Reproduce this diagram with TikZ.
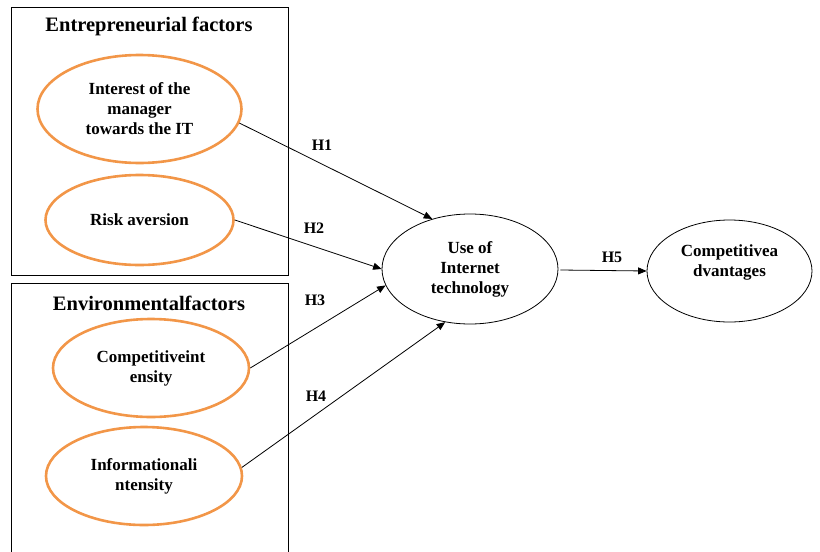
\documentclass[tikz,border=0pt]{standalone}
\usepackage{fontspec}
\setmainfont{Liberation Serif}
\usetikzlibrary{shapes.geometric,arrows.meta}
\definecolor{facorange}{RGB}{242,150,72}

\begin{document}
\begin{tikzpicture}[x=1pt, y=-1pt, every node/.style={font=\bfseries\fontsize{17}{20}\selectfont, align=center},
				fac/.style={ellipse, draw=facorange, line width=2.6pt, inner sep=0pt},
				ov/.style={ellipse, draw, line width=0.8pt, inner sep=0pt},
				ttl/.style={font=\bfseries\fontsize{20.5}{24}\selectfont},
				hl/.style={font=\bfseries\fontsize{16}{19}\selectfont},
				arr/.style={-{Triangle[length=8.5pt,width=7pt]}, line width=0.8pt}]
				\useasboundingbox (0,0) rectangle (820,552);

				\draw[line width=0.9pt] (11,7) rectangle (288,275);
				\draw[line width=0.9pt] (11,560) -- (11,283) -- (288,283) -- (288,560);

				\node[ttl] (t0) at (149,26) {Entrepreneurial factors};
				\node[ttl] (t1) at (149,303) {Environmentalfactors};

				\node[fac, minimum width=204, minimum height=108] (f0) at (139.5,109)
				{Interest of the\\manager\\towards the IT};
				\node[fac, minimum width=188, minimum height=90] (f1) at (139.5,220)
				{Risk aversion};
				\node[fac, minimum width=196, minimum height=98] (f2) at (151,368)
				{Competitiveint\\ensity};
				\node[fac, minimum width=196, minimum height=98] (f3) at (144,476)
				{Informationali\\ntensity};

				\node[ov, minimum width=176, minimum height=110] (u0) at (470,269)
				{Use of\\Internet\\technology};
				\node[ov, minimum width=165, minimum height=102] (c0) at (729.5,271)
				{Competitivea\\dvantages\\~};

				\draw[arr] (f0.-8) -- (u0.127);
				\draw[arr] (f1.0) -- (u0.180);
				\draw[arr] (f2.0) -- (u0.191);
				\draw[arr] (f3.5) -- (u0.245);
				\draw[arr] (u0.east) ++(2,1) -- (c0.west);

				\node[hl] (h1) at (322,145) {H1};
				\node[hl] (h2) at (314,228) {H2};
				\node[hl] (h3) at (315,300) {H3};
				\node[hl] (h4) at (316,396) {H4};
				\node[hl] (h5) at (612,257) {H5};
		\end{tikzpicture}
\end{document}
